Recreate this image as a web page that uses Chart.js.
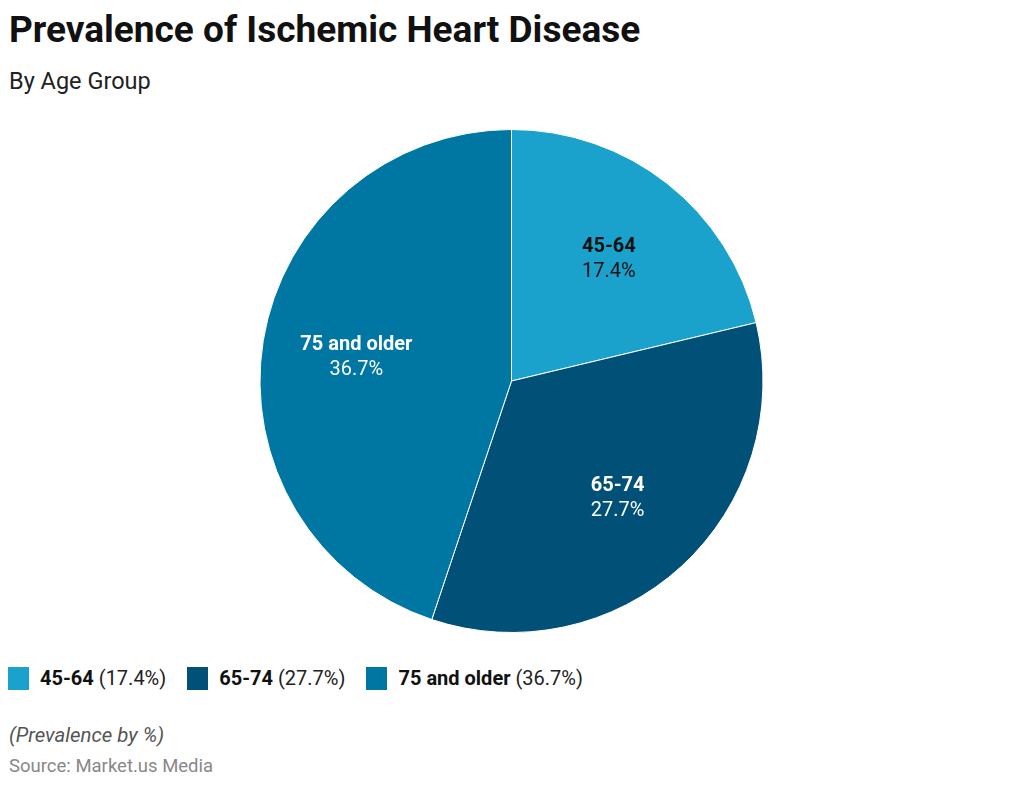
<!DOCTYPE html>
<html>
<head>
<meta charset="utf-8">
<script src="https://cdn.jsdelivr.net/npm/chart.js@4"></script>
<style>
  html, body { margin: 0; padding: 0; background: #fff; }
  body { width: 1023px; height: 786px; position: relative; overflow: hidden; font-family: Roboto, "Noto Sans", sans-serif; }
  #title { position: absolute; left: 9px; top: 8px; font-size: 37px; line-height: 44px; font-weight: 700; color: #111; white-space: nowrap; }
  #subtitle { position: absolute; left: 9px; top: 67px; font-size: 23.5px; line-height: 28px; color: #222; white-space: nowrap; }
  #wrap { position: absolute; left: 0; top: 129px; width: 1023px; height: 504px; }
  #legend { position: absolute; left: 8px; top: 666px; display: flex; align-items: center; font-size: 20px; color: #222; white-space: nowrap; }
  .item { display: flex; align-items: center; margin-right: 21px; }
  .sw { width: 21px; height: 23px; margin-right: 11px; }
  .item b { font-weight: 700; color: #111; margin-right: 5px; }
  #note { position: absolute; left: 9px; top: 723px; font-size: 20.4px; line-height: 24px; font-style: italic; color: #555; }
  #source { position: absolute; left: 9px; top: 755px; font-size: 18.5px; line-height: 22px; color: #888; }
</style>
</head>
<body>
<div id="title">Prevalence of Ischemic Heart Disease</div>
<div id="subtitle">By Age Group</div>
<div id="wrap"><canvas id="c"></canvas></div>
<div id="legend"></div>
<div id="note">(Prevalence by %)</div>
<div id="source">Source: Market.us Media</div>
<script>
const categories = ["45-64", "65-74", "75 and older"];
const values = [17.4, 27.7, 36.7];
const colors = ["#1aa1cc", "#005078", "#0077a2"];
const labelColors = ["#111111", "#ffffff", "#ffffff"];

const legend = document.getElementById('legend');
categories.forEach((c, i) => {
  const it = document.createElement('div');
  it.className = 'item';
  it.innerHTML = '<span class="sw" style="background:' + colors[i] + '"></span><b>' + c + '</b><span>(' + values[i].toFixed(1) + '%)</span>';
  legend.appendChild(it);
});

const sliceLabels = {
  id: 'sliceLabels',
  afterDatasetsDraw(chart) {
    const ctx = chart.ctx;
    const meta = chart.getDatasetMeta(0);
    meta.data.forEach((arc, i) => {
      const mid = (arc.startAngle + arc.endAngle) / 2;
      const r = arc.outerRadius * 0.625;
      const x = arc.x + Math.cos(mid) * r;
      const y = arc.y + Math.sin(mid) * r;
      ctx.save();
      ctx.fillStyle = labelColors[i];
      ctx.textAlign = 'center';
      ctx.textBaseline = 'middle';
      ctx.font = 'bold 20px Roboto';
      ctx.fillText(categories[i], x, y - 11);
      ctx.font = '20px Roboto';
      ctx.fillText(values[i].toFixed(1) + '%', x, y + 14);
      ctx.restore();
    });
  }
};

new Chart(document.getElementById('c'), {
  type: 'pie',
  data: {
    labels: categories,
    datasets: [{
      data: values,
      backgroundColor: colors,
      borderColor: '#ffffff',
      borderWidth: 1
    }]
  },
  options: {
    responsive: true,
    maintainAspectRatio: false,
    animation: false,
    layout: { padding: 0 },
    plugins: {
      legend: { display: false },
      tooltip: { enabled: false }
    }
  },
  plugins: [sliceLabels]
});
</script>
</body>
</html>
